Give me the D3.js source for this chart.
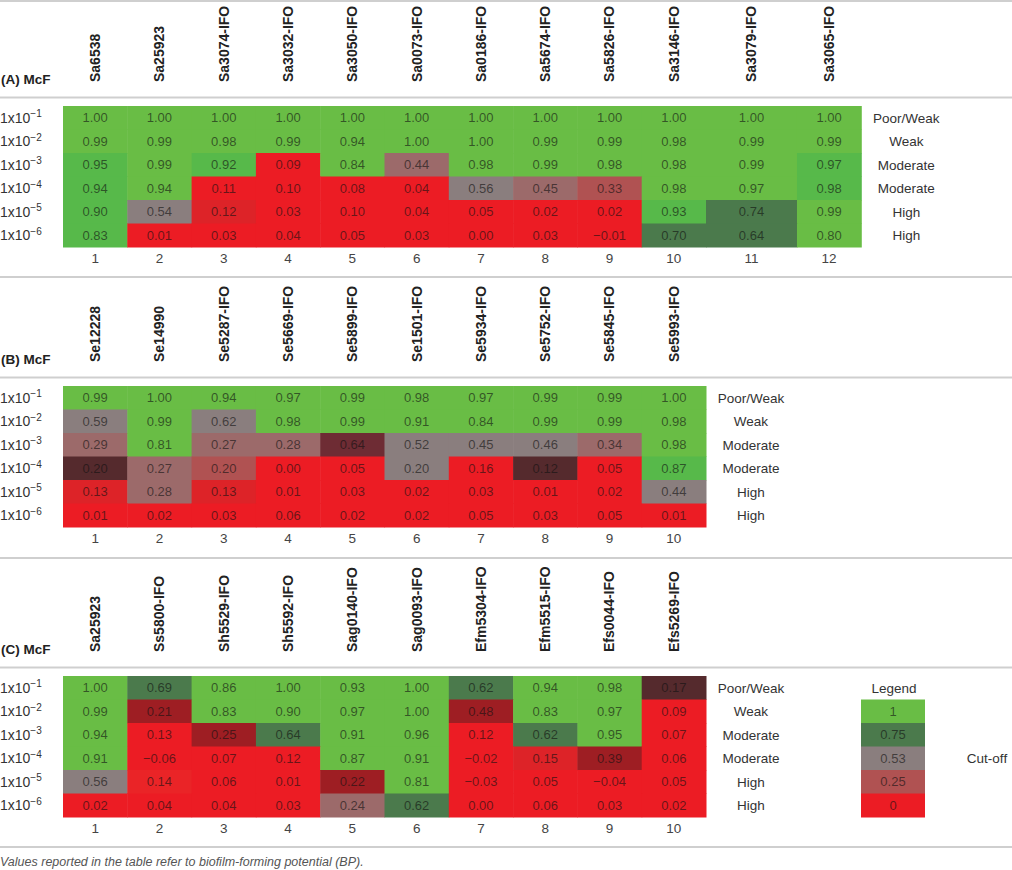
<!DOCTYPE html>
<html lang="en">
<head>
  <meta charset="UTF-8">
  <title>Biofilm-forming potential (BP) – McF</title>
  <script src="https://d3js.org/d3.v7.min.js"></script>
  <style>
    * { box-sizing: border-box; }
    body {
      margin: 0;
      background: #fff;
      font-family: 'Liberation Sans', Arial, Helvetica, sans-serif;
    }
    svg { display: block; }
    .cell-val { font-size: 13px; fill: #111; fill-opacity: 0.62; }
    .strain { font-size: 14px; font-weight: bold; fill: #222; }
    .title { font-size: 13.5px; font-weight: bold; fill: #222; }
    .row-lab { font-size: 14px; fill: #333; }
    .side-lab { font-size: 13.5px; fill: #333; }
    .col-num { font-size: 13.5px; fill: #444; }
    .rule { stroke: #cfcfcf; stroke-width: 2; }
    .note { font-size: 12.5px; font-style: italic; fill: #555; }
  </style>
</head>
<body>
  <svg id="chart" width="1012" height="870"></svg>

  <script>
    // dilutions (rows) and their category on the right
    const exponents = [-1, -2, -3, -4, -5, -6];
    const categories = ["Poor/Weak", "Weak", "Moderate", "Moderate", "High", "High"];

    // (A) S. aureus
    const strainsA = ["Sa6538", "Sa25923", "Sa3074-IFO", "Sa3032-IFO", "Sa3050-IFO", "Sa0073-IFO",
                      "Sa0186-IFO", "Sa5674-IFO", "Sa5826-IFO", "Sa3146-IFO", "Sa3079-IFO", "Sa3065-IFO"];
    const valuesA = [
      [1.00, 1.00, 1.00, 1.00, 1.00, 1.00, 1.00, 1.00, 1.00, 1.00, 1.00, 1.00],
      [0.99, 0.99, 0.98, 0.99, 0.94, 1.00, 1.00, 0.99, 0.99, 0.98, 0.99, 0.99],
      [0.95, 0.99, 0.92, 0.09, 0.84, 0.44, 0.98, 0.99, 0.98, 0.98, 0.99, 0.97],
      [0.94, 0.94, 0.11, 0.10, 0.08, 0.04, 0.56, 0.45, 0.33, 0.98, 0.97, 0.98],
      [0.90, 0.54, 0.12, 0.03, 0.10, 0.04, 0.05, 0.02, 0.02, 0.93, 0.74, 0.99],
      [0.83, 0.01, 0.03, 0.04, 0.05, 0.03, 0.00, 0.03, -0.01, 0.70, 0.64, 0.80]
    ];
    // shading class of every cell, as printed
    const shadesA = [
      "GGGGGGGGGGGG",
      "GGGGGGGGGGGG",
      "gGgRGPGGGGGg",
      "gGRRRRAPLGGg",
      "gArRRRRRRgDG",
      "gRRRRRRRRDDG"
    ];

    // (B) S. epidermidis
    const strainsB = ["Se12228", "Se14990", "Se5287-IFO", "Se5669-IFO", "Se5899-IFO",
                      "Se1501-IFO", "Se5934-IFO", "Se5752-IFO", "Se5845-IFO", "Se5993-IFO"];
    const valuesB = [
      [0.99, 1.00, 0.94, 0.97, 0.99, 0.98, 0.97, 0.99, 0.99, 1.00],
      [0.59, 0.99, 0.62, 0.98, 0.99, 0.91, 0.84, 0.99, 0.99, 0.98],
      [0.29, 0.81, 0.27, 0.28, 0.64, 0.52, 0.45, 0.46, 0.34, 0.98],
      [0.20, 0.27, 0.20, 0.00, 0.05, 0.20, 0.16, 0.12, 0.05, 0.87],
      [0.13, 0.28, 0.13, 0.01, 0.03, 0.02, 0.03, 0.01, 0.02, 0.44],
      [0.01, 0.02, 0.03, 0.06, 0.02, 0.02, 0.05, 0.03, 0.05, 0.01]
    ];
    const shadesB = [
      "GGGGGGGGGG",
      "AGAGGGGGGG",
      "PGPPNAAAPG",
      "MPLRRARMRg",
      "rPrRRRRRRA",
      "RRRRRRRRRR"
    ];

    // (C) other species
    const strainsC = ["Sa25923", "Ss5800-IFO", "Sh5529-IFO", "Sh5592-IFO", "Sag0140-IFO",
                      "Sag0093-IFO", "Efm5304-IFO", "Efm5515-IFO", "Efs0044-IFO", "Efs5269-IFO"];
    const valuesC = [
      [1.00, 0.69, 0.86, 1.00, 0.93, 1.00, 0.62, 0.94, 0.98, 0.17],
      [0.99, 0.21, 0.83, 0.90, 0.97, 1.00, 0.48, 0.83, 0.97, 0.09],
      [0.94, 0.13, 0.25, 0.64, 0.91, 0.96, 0.12, 0.62, 0.95, 0.07],
      [0.91, -0.06, 0.07, 0.12, 0.87, 0.91, -0.02, 0.15, 0.39, 0.06],
      [0.56, 0.14, 0.06, 0.01, 0.22, 0.81, -0.03, 0.05, -0.04, 0.05],
      [0.02, 0.04, 0.04, 0.03, 0.24, 0.62, 0.00, 0.06, 0.03, 0.02]
    ];
    const shadesC = [
      "GDGGGGDGGM",
      "GKGGGGKGGR",
      "GRKDGGRDGR",
      "GRRRGGRrKR",
      "AsRRKGRRRR",
      "RRRRPDRRRR"
    ];

    // legend
    const legendValues = ["1", "0.75", "0.53", "0.25", "0"];
    const legendShades = ["G", "D", "A", "L", "R"];

    const shadeCodes = ["G", "g", "D", "A", "P", "L", "K", "N", "M", "R", "r", "s"];
    const shadeColors = ["#69bd45", "#57b94a", "#4b7a4c", "#8a7e7e", "#9c6a6a", "#b05252",
                         "#9e1e23", "#6e2c34", "#552a2d", "#ec1c24", "#dd2328", "#ea2427"];
    const color = d3.scaleOrdinal().domain(shadeCodes).range(shadeColors);

    const fmt = d3.format(".2f");
    const svg = d3.select("#chart");

    const rowH = 23.5;
    const unit = 64.3;
    const cellLeft = 63;

    const panels = [
      { title: "(A) McF", strains: strainsA, values: valuesA, shades: shadesA, top: 1, head: 81,
        widths: [1, 1, 1, 1, 1, 1, 1, 1, 1, 1, 1.415, 1] },
      { title: "(B) McF", strains: strainsB, values: valuesB, shades: shadesB, top: 277, head: 85,
        widths: d3.range(10).map(() => 1) },
      { title: "(C) McF", strains: strainsC, values: valuesC, shades: shadesC, top: 558, head: 94,
        widths: d3.range(10).map(() => 1), legend: true }
    ];

    panels.forEach(p => {
      const g = svg.append("g");
      const headBottom = p.top + p.head;
      const sepY = headBottom + 15.5;
      const cellTop = sepY + 8.5;

      // column edges from cumulative widths
      const edges = [0, ...d3.cumsum(p.widths)];
      const x = d3.scaleLinear().domain([0, 1]).range([cellLeft, cellLeft + unit]);
      const y = d3.scaleBand().domain(exponents).range([cellTop, cellTop + rowH * exponents.length]);
      const cellRight = x(edges[edges.length - 1]);
      const mid = i => (x(edges[i]) + x(edges[i + 1])) / 2;

      g.append("line").attr("class", "rule")
        .attr("x1", 0).attr("x2", 1012).attr("y1", p.top).attr("y2", p.top);
      g.append("line").attr("class", "rule")
        .attr("x1", 0).attr("x2", 1012).attr("y1", sepY).attr("y2", sepY);

      g.append("text").attr("class", "title")
        .attr("x", 1).attr("y", headBottom + 1.5)
        .text(p.title);

      // rotated strain names
      g.selectAll(".strain").data(p.strains).join("text")
        .attr("class", "strain")
        .attr("transform", (d, i) => `translate(${mid(i)},${headBottom}) rotate(-90)`)
        .attr("dy", "0.35em")
        .text(d => d);

      // cells
      const cells = [];
      p.values.forEach((row, r) => row.forEach((v, c) => {
        cells.push({ r, c, v, shade: p.shades[r][c] });
      }));

      g.selectAll(".cell").data(cells).join("rect")
        .attr("class", "cell")
        .attr("x", d => x(edges[d.c]))
        .attr("y", d => y(exponents[d.r]))
        .attr("width", d => x(edges[d.c + 1]) - x(edges[d.c]) + 0.5)
        .attr("height", y.bandwidth() + 0.5)
        .attr("fill", d => color(d.shade));

      g.selectAll(".cell-val").data(cells).join("text")
        .attr("class", "cell-val")
        .attr("x", d => mid(d.c))
        .attr("y", d => y(exponents[d.r]) + y.bandwidth() / 2)
        .attr("dy", "0.36em")
        .attr("text-anchor", "middle")
        .text(d => fmt(d.v));

      // dilution labels
      const rl = g.selectAll(".row-lab").data(exponents).join("text")
        .attr("class", "row-lab")
        .attr("x", 0)
        .attr("y", d => y(d) + y.bandwidth() / 2)
        .attr("dy", "0.36em");
      rl.append("tspan").text("1x10");
      rl.append("tspan").attr("dy", -5.5).style("font-size", "10px").text(d => "\u2212" + Math.abs(d));

      // category labels on the right
      g.selectAll(".side-lab").data(categories).join("text")
        .attr("class", "side-lab")
        .attr("x", cellRight + 45)
        .attr("y", (d, i) => y(exponents[i]) + y.bandwidth() / 2)
        .attr("dy", "0.36em")
        .attr("text-anchor", "middle")
        .text(d => d);

      // column numbers
      g.selectAll(".col-num").data(p.strains).join("text")
        .attr("class", "col-num")
        .attr("x", (d, i) => mid(i))
        .attr("y", y.range()[1] + 11)
        .attr("dy", "0.36em")
        .attr("text-anchor", "middle")
        .text((d, i) => i + 1);

      if (p.legend) {
        const lx = 861, lw = 64;
        g.append("text").attr("class", "side-lab")
          .attr("x", lx + lw / 2 + 1)
          .attr("y", y(exponents[0]) + y.bandwidth() / 2)
          .attr("dy", "0.36em").attr("text-anchor", "middle")
          .text("Legend");
        const lg = g.selectAll(".leg").data(legendValues).join("g").attr("class", "leg");
        lg.append("rect")
          .attr("x", lx)
          .attr("y", (d, i) => y(exponents[i + 1]))
          .attr("width", lw)
          .attr("height", y.bandwidth() + 0.5)
          .attr("fill", (d, i) => color(legendShades[i]));
        lg.append("text").attr("class", "cell-val")
          .attr("x", lx + lw / 2)
          .attr("y", (d, i) => y(exponents[i + 1]) + y.bandwidth() / 2)
          .attr("dy", "0.36em").attr("text-anchor", "middle")
          .text(d => d);
        g.append("text").attr("class", "side-lab")
          .attr("x", 987)
          .attr("y", y(exponents[3]) + y.bandwidth() / 2)
          .attr("dy", "0.36em").attr("text-anchor", "middle")
          .text("Cut-off");

        const bottomY = y.range()[1] + 30;
        g.append("line").attr("class", "rule")
          .attr("x1", 0).attr("x2", 1012).attr("y1", bottomY).attr("y2", bottomY);
        g.append("text").attr("class", "note")
          .attr("x", 0).attr("y", bottomY + 19)
          .text("Values reported in the table refer to biofilm-forming potential (BP).");
      }
    });
  </script>
</body>
</html>
